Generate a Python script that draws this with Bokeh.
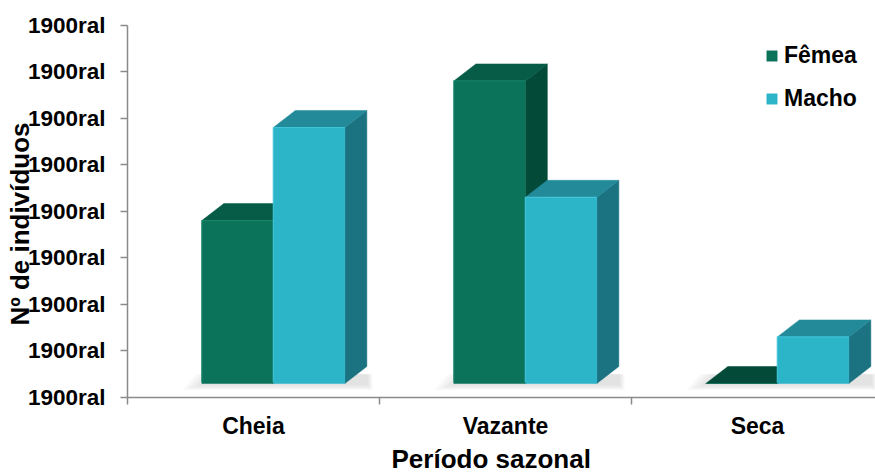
from bokeh.plotting import figure
from bokeh.models import Range1d, FixedTicker, Legend, LegendItem, Title
from bokeh.embed import file_html
from bokeh.resources import INLINE

# ---- data ----
periods = ["Cheia", "Vazante", "Seca"]
femea = [7, 13, 0]
macho = [11, 8, 2]
y_ticks = [0, 2, 4, 6, 8, 10, 12, 14, 16]
y_tick_labels = ["1900ral"] * len(y_ticks)
series_names = ["Fêmea", "Macho"]
x_title = "Período sazonal"
y_title = "Nº de indivíduos"

# ---- layout ----
W, H = 875, 473
FRAME_L, FRAME_R, FRAME_T, FRAME_B = 127, 875, 10, 397
CAT_PX = 252.0          # pixels per category
UNIT_PX = 23.275        # pixels per y unit
FLOOR_PX = 14           # front edge of the floor sits above the axis line
DEPTH_X_PX, DEPTH_Y_PX = 22, 17

x_end = (FRAME_R - FRAME_L) / CAT_PX
y_end = (FRAME_B - FRAME_T) / UNIT_PX
floor_shift = FLOOR_PX / UNIT_PX
DX = DEPTH_X_PX / CAT_PX
DY = DEPTH_Y_PX / UNIT_PX
BAR_W = 71.5 / CAT_PX
FEM_OFF = -0.205        # left edge of the first bar from the category centre

FONT = "Liberation Sans"
AXIS_GREY = "#8a8a8a"

colors = {
    "Fêmea": dict(front="#0a735a", top="#075c47", side="#034a39", edge="#1a8a6e"),
    "Macho": dict(front="#2cb4c9", top="#238a9a", side="#1b7281", edge="#45c9dc"),
}

p = figure(width=W, height=H, output_backend="svg", toolbar_location=None,
           x_range=Range1d(0, x_end), y_range=Range1d(0, y_end),
           min_border_left=FRAME_L, min_border_right=W - FRAME_R,
           min_border_top=FRAME_T, min_border_bottom=H - FRAME_B)
p.extra_y_ranges = {"bars": Range1d(-floor_shift, y_end - floor_shift)}
p.outline_line_color = None
p.grid.visible = False
p.background_fill_color = "white"
p.border_fill_color = "white"

# ---- axes ----
xa = p.xaxis[0]
xa.ticker = FixedTicker(ticks=[i + 0.5 for i in range(len(periods))],
                        minor_ticks=list(range(len(periods) + 1)))
xa.major_label_overrides = {i + 0.5: name for i, name in enumerate(periods)}
xa.major_tick_line_color = None
xa.major_tick_in = 0
xa.major_tick_out = 0
xa.minor_tick_in = 0
xa.minor_tick_out = 7
xa.minor_tick_line_color = AXIS_GREY
xa.minor_tick_line_width = 1.5
xa.axis_line_color = AXIS_GREY
xa.axis_line_width = 1.5
xa.major_label_standoff = 8
xa.major_label_text_font = FONT
xa.major_label_text_font_style = "bold"
xa.major_label_text_font_size = "23px"
xa.major_label_text_color = "black"

ya = p.yaxis[0]
ya.ticker = FixedTicker(ticks=y_ticks, minor_ticks=[])
ya.major_label_overrides = {t: lab for t, lab in zip(y_ticks, y_tick_labels)}
ya.bounds = (y_ticks[0], y_ticks[-1])
ya.major_tick_in = 0
ya.major_tick_out = 7
ya.major_tick_line_color = AXIS_GREY
ya.major_tick_line_width = 1.5
ya.minor_tick_line_color = None
ya.axis_line_color = AXIS_GREY
ya.axis_line_width = 1.5
ya.major_label_standoff = 15
ya.major_label_text_font = FONT
ya.major_label_text_font_style = "bold"
ya.major_label_text_font_size = "22.5px"
ya.major_label_text_color = "black"

# ---- 3D bars ----
centers = [i + 0.5 for i in range(len(periods))]
groups_left = [c + FEM_OFF for c in centers]
groups_right = [c + FEM_OFF + 2 * BAR_W + DX for c in centers]

# soft floor shadow under each group
for k in range(5):
    s = 0.012 + 0.016 * k
    e = 0.08 + 0.05 * k
    xs, ys = [], []
    for l, r in zip(groups_left, groups_right):
        xs.append([l - s, r + s * 0.3, r + s * 0.3, l + DX * 0.6 - s])
        ys.append([-e, -e, DY * 0.55, DY * 0.55])
    p.patches(xs, ys, fill_color="#9a9a9a", fill_alpha=0.06, line_color=None,
              y_range_name="bars")

front_renderers = {}
for si, (name, vals) in enumerate(zip(series_names, [femea, macho])):
    col = colors[name]
    lefts = [c + FEM_OFF + si * BAR_W for c in centers]
    rights = [l + BAR_W for l in lefts]
    side_x, side_y, top_x, top_y, top_c = [], [], [], [], []
    for l, r, v in zip(lefts, rights, vals):
        side_x.append([r, r + DX, r + DX, r])
        side_y.append([0, DY, v + DY, v])
        top_x.append([l, r, r + DX, l + DX])
        top_y.append([v, v, v + DY, v + DY])
        # a zero-height bar shows only its flat top, in the dark side shade
        top_c.append(col["top"] if v > 0 else col["side"])
    p.patches(side_x, side_y, fill_color=col["side"], line_color=col["side"],
              line_width=0.5, y_range_name="bars")
    p.patches(top_x, top_y, fill_color=top_c, line_color=top_c,
              line_width=0.5, y_range_name="bars")
    front = p.quad(left=lefts, right=rights, bottom=[0] * len(vals), top=vals,
                   fill_color=col["front"], line_color=col["front"], line_width=0.5,
                   y_range_name="bars")
    # thin bevel highlight along the top and left edge of each front face
    hx = [[l, l, r] for l, r, v in zip(lefts, rights, vals) if v > 0]
    hy = [[0.05, v, v] for v in vals if v > 0]
    p.multi_line(hx, hy, line_color=col["edge"], line_width=1.2, line_alpha=0.8,
                 y_range_name="bars")
    front_renderers[name] = front

# ---- legend ----
legend = Legend(items=[LegendItem(label=n, renderers=[front_renderers[n]])
                       for n in series_names],
                location=(638, 285), orientation="vertical",
                glyph_width=13, glyph_height=13, label_standoff=6,
                label_height=25, spacing=16, padding=0, margin=0,
                border_line_color=None, background_fill_alpha=0,
                label_text_font=FONT, label_text_font_style="bold",
                label_text_font_size="23px", label_text_color="black")
p.add_layout(legend, "center")

# ---- axis titles ----
# the vertical title tucks in over the tick labels (negative standoff)
p.add_layout(Title(text=y_title, align="right", offset=112, standoff=-20,
                   vertical_align="bottom",
                   text_font=FONT, text_font_style="bold", text_font_size="26px",
                   text_color="black"), "left")
p.add_layout(Title(text=x_title, align="left", offset=264, standoff=0,
                   vertical_align="bottom",
                   text_font=FONT, text_font_style="bold", text_font_size="26px",
                   text_color="black"), "below")

open("out.html", "w").write(file_html(p, INLINE))
